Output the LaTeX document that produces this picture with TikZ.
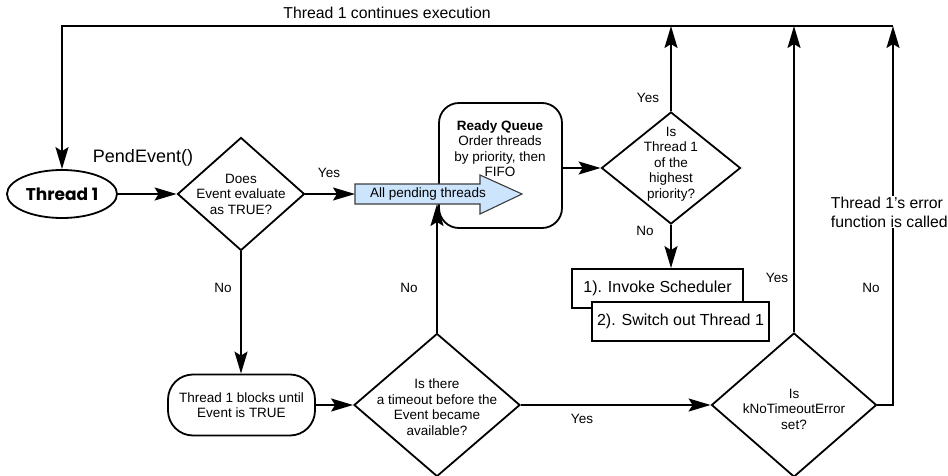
\documentclass[tikz,border=0pt]{standalone}
\usepackage{fontspec}
\setmainfont{Liberation Sans}
\newfontfamily\geofont{Poppins}
\usetikzlibrary{shapes.geometric,arrows.meta}
\definecolor{pendfill}{RGB}{204,228,252}
\definecolor{pendline}{RGB}{60,60,60}

\begin{document}
\begin{tikzpicture}[x=1pt,y=-1pt,line width=1.8pt,
  conn/.style={draw,-{Stealth[length=22pt,width=13pt,inset=4pt]}},
  dia/.style={diamond,draw,inner sep=0pt},
  dtext/.style={align=center,font=\fontsize{13.5}{15.5}\selectfont},
  lbl/.style={font=\fontsize{13.5}{15.5}\selectfont,inner sep=1pt},
  biglbl/.style={font=\fontsize{15.8}{19}\selectfont,inner sep=1pt},
  stepbox/.style={draw,fill=white,minimum height=39pt,inner sep=0pt,
    font=\fontsize{16}{18}\selectfont}]
\useasboundingbox (0,0) rectangle (948,476);

% start node and first decision
\node[ellipse,draw,minimum width=110pt,minimum height=48pt,inner sep=0pt,
  font=\geofont\bfseries\fontsize{17}{20}\selectfont] (thr) at (62,194) {Thread 1};
\node[font=\fontsize{18}{20}\selectfont] (pendcall) at (143,158) {PendEvent()};
\node[dia,minimum width=127pt,minimum height=113pt,
  label={[dtext]center:{Does\\Event evaluate\\as TRUE?}}] (d1) at (241,194) {};

% ready queue and priority test
\node[draw,rounded corners=20pt,minimum width=123pt,minimum height=125pt] (rq) at (500.5,165.5) {};
\node[dtext,anchor=north] (rqtext) at (500,116)
  {\textbf{Ready Queue}\\Order threads\\by priority, then\\FIFO};
\node[dia,minimum width=139pt,minimum height=112pt,
  label={[dtext,yshift=4pt]center:{Is\\Thread 1\\of the\\highest\\priority?}}] (d4) at (671,168) {};

% wide arrow carrying the pending threads
\coordinate (pendin) at (355,194);
\coordinate (pendunder) at (437,204);
\path[fill=pendfill,draw=pendline,line width=1.1pt]
  (355,184) -- (480,184) -- (480,175) -- (522,194) -- (480,214) -- (480,204) -- (355,204) -- cycle;
\node[font=\fontsize{13.5}{15.5}\selectfont,inner sep=0pt] (pend) at (428,194) {All pending threads};

% scheduler steps
\node[stepbox,minimum width=171pt] (box1) at (657.5,288.5) {1). Invoke Scheduler};
\node[stepbox,minimum width=177pt] (box2) at (680.5,321.5) {2). Switch out Thread 1};

% blocking path
\node[draw,rounded corners=25pt,minimum width=147pt,minimum height=61pt,dtext] (blk)
  at (241.5,405) {Thread 1 blocks until\\Event is TRUE};
\node[dia,minimum width=166pt,minimum height=143pt,
  label={[dtext,yshift=-2pt]center:{Is there\\a timeout before the\\Event became\\available?}}] (d2) at (437,405) {};
\node[dia,minimum width=165pt,minimum height=144pt,
  label={[dtext,yshift=-4pt]center:{Is\\kNoTimeoutError\\set?}}] (d3) at (794,405) {};

% return path along the top
\coordinate (tr) at (893,26);
\coordinate (tl) at (thr.north |- tr);

% connectors
\draw[conn] (tr) -- (tl) -- (thr.north);
\draw[conn] (thr.east) -- (d1.west);
\draw[conn] (d1.east) -- (pendin);
\draw[conn] (d1.south) -- (d1.south |- blk.north);
\draw[conn] (blk.east) -- (d2.west);
\draw[conn] (d2.north) -- (pendunder);
\draw[conn] (d2.east) -- (d3.west);
\draw[conn] (rq.east |- d4.west) -- (d4.west);
\draw[conn] (d4.north) -- (d4.north |- tr);
\draw[conn] (d4.south) -- (d4.south |- box1.north);
\draw[conn] (d3.north) -- (d3.north |- tr);
\draw[conn] (d3.east) -- (tr |- d3.east) -- (tr);

% connector labels
\node[biglbl] (ltop) at (387,13) {Thread 1 continues execution};
\node[lbl] (l1y) at (329,173) {Yes};
\node[lbl] (l1n) at (223,288) {No};
\node[lbl] (l2n) at (409,288) {No};
\node[lbl] (l2y) at (582,419) {Yes};
\node[lbl] (l4y) at (648,98) {Yes};
\node[lbl] (l4n) at (645,231) {No};
\node[lbl] (l3y) at (777,278) {Yes};
\node[lbl] (l3n) at (871,288) {No};
\node[biglbl,fill=white,align=left,anchor=west] (lerr) at (829,212)
  {Thread 1's error\\function is called};
\end{tikzpicture}
\end{document}
